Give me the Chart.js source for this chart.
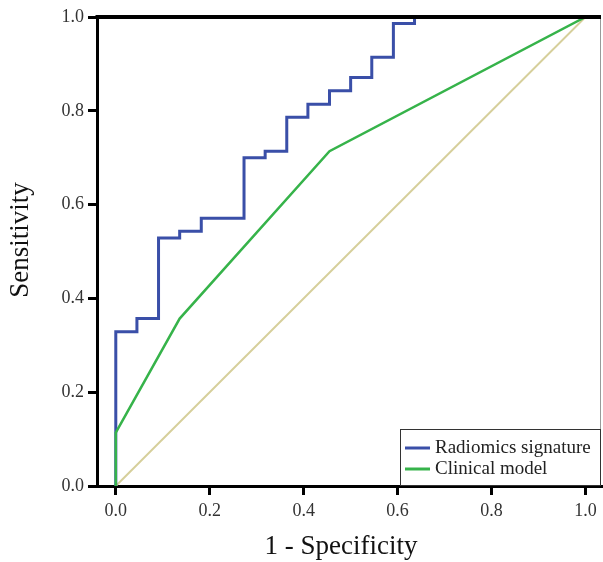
<!DOCTYPE html>
<html>
<head>
<meta charset="utf-8">
<script src="https://cdn.jsdelivr.net/npm/chart.js@4.4.1/dist/chart.umd.min.js"></script>
<style>
  html, body { margin: 0; padding: 0; background: #fff; }
  #roc { display: block; }
</style>
</head>
<body>
<canvas id="roc" width="603" height="562"></canvas>
<script>
// ROC curves: radiomics signature vs clinical model, with chance diagonal
const xTicks = [0, 0.2, 0.4, 0.6, 0.8, 1.0];
const yTicks = [0, 0.2, 0.4, 0.6, 0.8, 1.0];

const radiomicsFpr = [0, 0, 0.045, 0.045, 0.091, 0.091, 0.136, 0.136, 0.182, 0.182, 0.273, 0.273,
  0.318, 0.318, 0.364, 0.364, 0.409, 0.409, 0.455, 0.455, 0.5, 0.5, 0.545, 0.545, 0.591, 0.591,
  0.636, 0.636, 1.0];
const radiomicsTpr = [0, 0.329, 0.329, 0.357, 0.357, 0.529, 0.529, 0.543, 0.543, 0.571, 0.571, 0.7,
  0.7, 0.714, 0.714, 0.786, 0.786, 0.814, 0.814, 0.843, 0.843, 0.871, 0.871, 0.914, 0.914, 0.986,
  0.986, 1.0, 1.0];

const clinicalFpr = [0, 0, 0.136, 0.455, 1.0];
const clinicalTpr = [0, 0.114, 0.357, 0.714, 1.0];

const refFpr = [0, 1];
const refTpr = [0, 1];

const xTitle = '1 - Specificity';
const yTitle = 'Sensitivity';

const toPts = (xs, ys) => xs.map((x, i) => ({ x: x, y: ys[i] }));

const serif = '"Liberation Serif", "Times New Roman", serif';

const rocFrame = {
  id: 'rocFrame',
  afterDatasetsDraw(chart) {
    const { ctx, chartArea: a } = chart;
    ctx.save();
    // thin right edge
    ctx.strokeStyle = '#9a9a9a';
    ctx.lineWidth = 1;
    ctx.beginPath();
    ctx.moveTo(a.right - 0.5, a.top);
    ctx.lineTo(a.right - 0.5, a.bottom);
    ctx.stroke();
    // heavy top edge
    ctx.strokeStyle = '#000';
    ctx.lineWidth = 4;
    ctx.beginPath();
    ctx.moveTo(a.left - 1.5, a.top);
    ctx.lineTo(a.right, a.top);
    ctx.stroke();

    // legend box, bottom right
    const w = 201, h = 57;
    const lx = a.right - w, ly = a.bottom - h;
    ctx.fillStyle = '#fff';
    ctx.fillRect(lx, ly, w, h);
    ctx.strokeStyle = '#333';
    ctx.lineWidth = 1;
    ctx.strokeRect(lx + 0.5, ly + 0.5, w - 1, h - 1);
    ctx.font = '19px ' + serif;
    ctx.textBaseline = 'middle';
    ctx.textAlign = 'left';
    chart.data.datasets.filter(d => d.inLegend).forEach((d, i) => {
      const y = ly + 19 + i * 21;
      ctx.strokeStyle = d.borderColor;
      ctx.lineWidth = 3;
      ctx.beginPath();
      ctx.moveTo(lx + 5, y);
      ctx.lineTo(lx + 30, y);
      ctx.stroke();
      ctx.fillStyle = '#222';
      ctx.fillText(d.label, lx + 35, y);
    });

    // axis titles (the original sits a little left of / above the plot centre)
    ctx.fillStyle = '#111';
    ctx.font = '27px ' + serif;
    ctx.textAlign = 'center';
    ctx.textBaseline = 'middle';
    ctx.fillText(xTitle, 341, 547);
    ctx.translate(21, 240);
    ctx.rotate(-Math.PI / 2);
    ctx.fillText(yTitle, 0, 0);
    ctx.restore();
  }
};

new Chart(document.getElementById('roc'), {
  type: 'scatter',
  data: {
    datasets: [
      {
        label: 'Radiomics signature',
        data: toPts(radiomicsFpr, radiomicsTpr),
        borderColor: '#3a4fa8',
        borderWidth: 3,
        showLine: true,
        pointRadius: 0,
        order: 2,
        inLegend: true
      },
      {
        label: 'Clinical model',
        data: toPts(clinicalFpr, clinicalTpr),
        borderColor: '#36b34a',
        borderWidth: 2.5,
        showLine: true,
        pointRadius: 0,
        order: 1,
        inLegend: true
      },
      {
        label: 'Reference',
        data: toPts(refFpr, refTpr),
        borderColor: '#d6cf9b',
        borderWidth: 2,
        showLine: true,
        pointRadius: 0,
        order: 3,
        inLegend: false
      }
    ]
  },
  options: {
    responsive: false,
    animation: false,
    layout: { padding: { top: 17, right: 2, left: 0, bottom: 0 } },
    plugins: {
      legend: { display: false },
      tooltip: { enabled: false }
    },
    scales: {
      x: {
        type: 'linear',
        min: -0.04,
        max: 1.033,
        afterBuildTicks: s => { s.ticks = xTicks.map(v => ({ value: v })); },
        afterFit: s => { s.height = 76; },
        ticks: {
          padding: 5,
          color: '#333',
          font: { family: serif, size: 18 },
          callback: v => v.toFixed(1)
        },
        grid: { drawOnChartArea: false, tickLength: 9, lineWidth: 3, color: '#000' },
        border: { display: true, width: 3, color: '#000' },
        title: { display: false }
      },
      y: {
        type: 'linear',
        min: 0,
        max: 1,
        afterBuildTicks: s => { s.ticks = yTicks.map(v => ({ value: v })); },
        afterFit: s => { s.width = 97; },
        ticks: {
          padding: 4,
          color: '#333',
          font: { family: serif, size: 18 },
          callback: v => v.toFixed(1)
        },
        grid: { drawOnChartArea: false, tickLength: 9, lineWidth: 3, color: '#000' },
        border: { display: true, width: 3, color: '#000' },
        title: { display: false }
      }
    }
  },
  plugins: [rocFrame]
});
</script>
</body>
</html>
